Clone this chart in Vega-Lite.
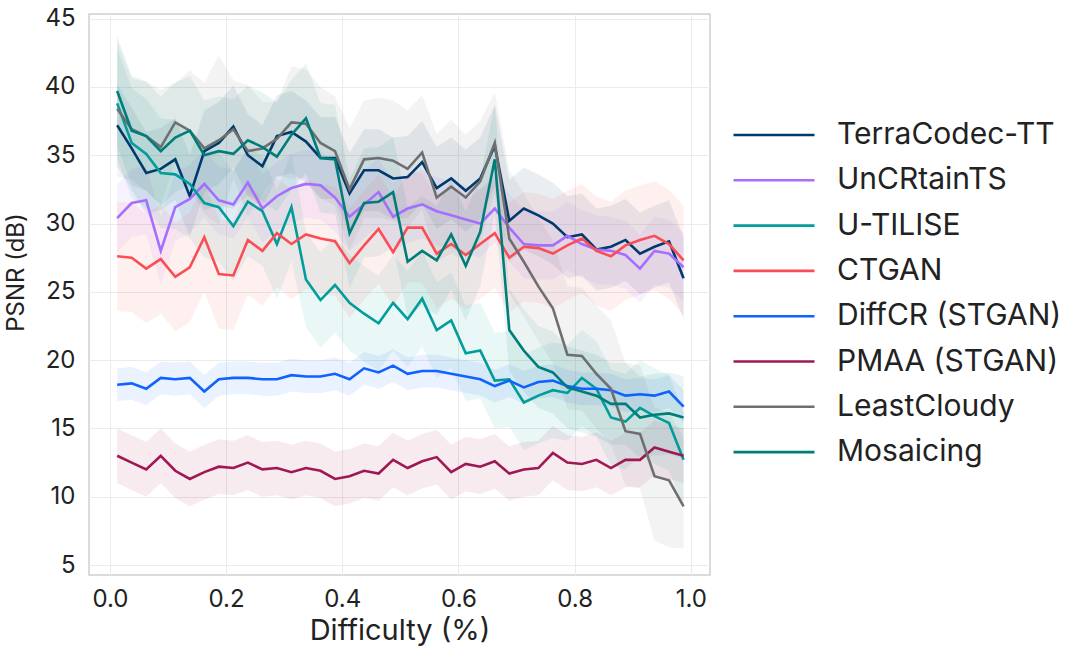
{
"$schema": "https://vega.github.io/schema/vega-lite/v6.json",
"width": 621, "height": 561,
"autosize": {"type": "none"},
"padding": {"left": 89, "top": 14, "right": 369, "bottom": 82},
"config": {"font": "Inter", "view": {"stroke": "#cfcfcf", "strokeWidth": 1.5},
 "axis": {"grid": true, "gridColor": "#ebebeb", "gridWidth": 1, "domain": false, "ticks": false, "labelFontSize": 24, "labelColor": "#222222", "titleFontSize": 29, "titleFontWeight": "normal", "titleColor": "#222222"}},
"data": {"values": [
{"m":"TerraCodec-TT","x":0.0125,"y":37.2,"lo":34.2,"hi":40.2},{"m":"TerraCodec-TT","x":0.0375,"y":35.5,"lo":32.5,"hi":38.5},{"m":"TerraCodec-TT","x":0.0625,"y":33.7,"lo":30.7,"hi":36.7},{"m":"TerraCodec-TT","x":0.0875,"y":34.0,"lo":31.0,"hi":37.0},{"m":"TerraCodec-TT","x":0.1125,"y":34.7,"lo":31.7,"hi":37.7},{"m":"TerraCodec-TT","x":0.1375,"y":32.0,"lo":29.0,"hi":35.0},{"m":"TerraCodec-TT","x":0.1625,"y":35.3,"lo":32.3,"hi":38.3},{"m":"TerraCodec-TT","x":0.1875,"y":35.9,"lo":32.9,"hi":38.9},{"m":"TerraCodec-TT","x":0.2125,"y":37.1,"lo":34.1,"hi":40.1},{"m":"TerraCodec-TT","x":0.2375,"y":35.0,"lo":32.0,"hi":38.0},{"m":"TerraCodec-TT","x":0.2625,"y":34.2,"lo":31.2,"hi":37.2},{"m":"TerraCodec-TT","x":0.2875,"y":36.4,"lo":33.4,"hi":39.4},{"m":"TerraCodec-TT","x":0.3125,"y":36.7,"lo":33.7,"hi":39.7},{"m":"TerraCodec-TT","x":0.3375,"y":36.0,"lo":33.0,"hi":39.0},{"m":"TerraCodec-TT","x":0.3625,"y":34.8,"lo":31.8,"hi":37.8},{"m":"TerraCodec-TT","x":0.3875,"y":34.8,"lo":31.8,"hi":37.8},{"m":"TerraCodec-TT","x":0.4125,"y":32.2,"lo":29.2,"hi":35.2},{"m":"TerraCodec-TT","x":0.4375,"y":33.9,"lo":30.9,"hi":36.9},{"m":"TerraCodec-TT","x":0.4625,"y":33.9,"lo":30.9,"hi":36.9},{"m":"TerraCodec-TT","x":0.4875,"y":33.3,"lo":30.3,"hi":36.3},{"m":"TerraCodec-TT","x":0.5125,"y":33.4,"lo":30.4,"hi":36.4},{"m":"TerraCodec-TT","x":0.5375,"y":34.5,"lo":31.5,"hi":37.5},{"m":"TerraCodec-TT","x":0.5625,"y":32.6,"lo":29.6,"hi":35.6},{"m":"TerraCodec-TT","x":0.5875,"y":33.3,"lo":30.3,"hi":36.3},{"m":"TerraCodec-TT","x":0.6125,"y":32.4,"lo":29.4,"hi":35.4},{"m":"TerraCodec-TT","x":0.6375,"y":33.3,"lo":30.3,"hi":36.3},{"m":"TerraCodec-TT","x":0.6625,"y":35.7,"lo":32.7,"hi":38.7},{"m":"TerraCodec-TT","x":0.6875,"y":30.2,"lo":27.2,"hi":33.2},{"m":"TerraCodec-TT","x":0.7125,"y":31.1,"lo":28.1,"hi":34.1},{"m":"TerraCodec-TT","x":0.7375,"y":30.6,"lo":27.6,"hi":33.6},{"m":"TerraCodec-TT","x":0.7625,"y":30.0,"lo":27.0,"hi":33.0},{"m":"TerraCodec-TT","x":0.7875,"y":29.0,"lo":26.0,"hi":32.0},{"m":"TerraCodec-TT","x":0.8125,"y":29.2,"lo":26.2,"hi":32.2},{"m":"TerraCodec-TT","x":0.8375,"y":28.1,"lo":25.1,"hi":31.1},{"m":"TerraCodec-TT","x":0.8625,"y":28.3,"lo":25.3,"hi":31.3},{"m":"TerraCodec-TT","x":0.8875,"y":28.8,"lo":25.8,"hi":31.8},{"m":"TerraCodec-TT","x":0.9125,"y":27.8,"lo":24.8,"hi":30.8},{"m":"TerraCodec-TT","x":0.9375,"y":28.3,"lo":25.3,"hi":31.3},{"m":"TerraCodec-TT","x":0.9625,"y":28.7,"lo":25.7,"hi":31.7},{"m":"TerraCodec-TT","x":0.9875,"y":26.0,"lo":23.0,"hi":29.0},
{"m":"UnCRtainTS","x":0.0125,"y":30.4,"lo":27.9,"hi":32.9},{"m":"UnCRtainTS","x":0.0375,"y":31.5,"lo":29.0,"hi":34.0},{"m":"UnCRtainTS","x":0.0625,"y":31.7,"lo":29.2,"hi":34.2},{"m":"UnCRtainTS","x":0.0875,"y":28.0,"lo":25.5,"hi":30.5},{"m":"UnCRtainTS","x":0.1125,"y":31.2,"lo":28.7,"hi":33.7},{"m":"UnCRtainTS","x":0.1375,"y":31.8,"lo":29.3,"hi":34.3},{"m":"UnCRtainTS","x":0.1625,"y":32.9,"lo":30.4,"hi":35.4},{"m":"UnCRtainTS","x":0.1875,"y":31.7,"lo":29.2,"hi":34.2},{"m":"UnCRtainTS","x":0.2125,"y":31.4,"lo":28.9,"hi":33.9},{"m":"UnCRtainTS","x":0.2375,"y":33.0,"lo":30.5,"hi":35.5},{"m":"UnCRtainTS","x":0.2625,"y":31.1,"lo":28.6,"hi":33.6},{"m":"UnCRtainTS","x":0.2875,"y":32.0,"lo":29.5,"hi":34.5},{"m":"UnCRtainTS","x":0.3125,"y":32.6,"lo":30.1,"hi":35.1},{"m":"UnCRtainTS","x":0.3375,"y":32.9,"lo":30.4,"hi":35.4},{"m":"UnCRtainTS","x":0.3625,"y":32.8,"lo":30.3,"hi":35.3},{"m":"UnCRtainTS","x":0.3875,"y":31.9,"lo":29.4,"hi":34.4},{"m":"UnCRtainTS","x":0.4125,"y":30.5,"lo":28.0,"hi":33.0},{"m":"UnCRtainTS","x":0.4375,"y":31.4,"lo":28.9,"hi":33.9},{"m":"UnCRtainTS","x":0.4625,"y":32.3,"lo":29.8,"hi":34.8},{"m":"UnCRtainTS","x":0.4875,"y":30.5,"lo":28.0,"hi":33.0},{"m":"UnCRtainTS","x":0.5125,"y":31.1,"lo":28.6,"hi":33.6},{"m":"UnCRtainTS","x":0.5375,"y":31.4,"lo":28.9,"hi":33.9},{"m":"UnCRtainTS","x":0.5625,"y":30.9,"lo":28.4,"hi":33.4},{"m":"UnCRtainTS","x":0.5875,"y":30.6,"lo":28.1,"hi":33.1},{"m":"UnCRtainTS","x":0.6125,"y":30.3,"lo":27.8,"hi":32.8},{"m":"UnCRtainTS","x":0.6375,"y":30.0,"lo":27.5,"hi":32.5},{"m":"UnCRtainTS","x":0.6625,"y":31.1,"lo":28.6,"hi":33.6},{"m":"UnCRtainTS","x":0.6875,"y":29.7,"lo":27.2,"hi":32.2},{"m":"UnCRtainTS","x":0.7125,"y":28.5,"lo":26.0,"hi":31.0},{"m":"UnCRtainTS","x":0.7375,"y":28.4,"lo":25.9,"hi":30.9},{"m":"UnCRtainTS","x":0.7625,"y":28.4,"lo":25.9,"hi":30.9},{"m":"UnCRtainTS","x":0.7875,"y":29.1,"lo":26.6,"hi":31.6},{"m":"UnCRtainTS","x":0.8125,"y":28.5,"lo":26.0,"hi":31.0},{"m":"UnCRtainTS","x":0.8375,"y":28.1,"lo":25.6,"hi":30.6},{"m":"UnCRtainTS","x":0.8625,"y":28.0,"lo":25.5,"hi":30.5},{"m":"UnCRtainTS","x":0.8875,"y":27.7,"lo":25.2,"hi":30.2},{"m":"UnCRtainTS","x":0.9125,"y":26.7,"lo":24.2,"hi":29.2},{"m":"UnCRtainTS","x":0.9375,"y":28.0,"lo":25.5,"hi":30.5},{"m":"UnCRtainTS","x":0.9625,"y":27.8,"lo":25.3,"hi":30.3},{"m":"UnCRtainTS","x":0.9875,"y":26.8,"lo":24.3,"hi":29.3},
{"m":"U-TILISE","x":0.0125,"y":38.8,"lo":34.8,"hi":42.8},{"m":"U-TILISE","x":0.0375,"y":35.9,"lo":31.9,"hi":39.9},{"m":"U-TILISE","x":0.0625,"y":35.1,"lo":31.1,"hi":39.1},{"m":"U-TILISE","x":0.0875,"y":33.7,"lo":29.7,"hi":37.7},{"m":"U-TILISE","x":0.1125,"y":33.6,"lo":29.6,"hi":37.6},{"m":"U-TILISE","x":0.1375,"y":32.9,"lo":28.9,"hi":36.9},{"m":"U-TILISE","x":0.1625,"y":31.5,"lo":27.5,"hi":35.5},{"m":"U-TILISE","x":0.1875,"y":31.2,"lo":27.2,"hi":35.2},{"m":"U-TILISE","x":0.2125,"y":29.8,"lo":25.8,"hi":33.8},{"m":"U-TILISE","x":0.2375,"y":31.6,"lo":27.6,"hi":35.6},{"m":"U-TILISE","x":0.2625,"y":30.9,"lo":26.9,"hi":34.9},{"m":"U-TILISE","x":0.2875,"y":28.5,"lo":24.5,"hi":32.5},{"m":"U-TILISE","x":0.3125,"y":31.2,"lo":27.2,"hi":35.2},{"m":"U-TILISE","x":0.3375,"y":25.9,"lo":22.4,"hi":29.4},{"m":"U-TILISE","x":0.3625,"y":24.4,"lo":20.9,"hi":27.9},{"m":"U-TILISE","x":0.3875,"y":25.5,"lo":22.0,"hi":29.0},{"m":"U-TILISE","x":0.4125,"y":24.2,"lo":20.7,"hi":27.7},{"m":"U-TILISE","x":0.4375,"y":23.4,"lo":19.9,"hi":26.9},{"m":"U-TILISE","x":0.4625,"y":22.7,"lo":19.2,"hi":26.2},{"m":"U-TILISE","x":0.4875,"y":24.2,"lo":20.7,"hi":27.7},{"m":"U-TILISE","x":0.5125,"y":23.0,"lo":19.5,"hi":26.5},{"m":"U-TILISE","x":0.5375,"y":24.5,"lo":21.0,"hi":28.0},{"m":"U-TILISE","x":0.5625,"y":22.2,"lo":18.7,"hi":25.7},{"m":"U-TILISE","x":0.5875,"y":22.9,"lo":19.4,"hi":26.4},{"m":"U-TILISE","x":0.6125,"y":20.5,"lo":17.0,"hi":24.0},{"m":"U-TILISE","x":0.6375,"y":20.7,"lo":17.2,"hi":24.2},{"m":"U-TILISE","x":0.6625,"y":18.5,"lo":15.0,"hi":22.0},{"m":"U-TILISE","x":0.6875,"y":18.6,"lo":15.1,"hi":22.1},{"m":"U-TILISE","x":0.7125,"y":16.9,"lo":13.4,"hi":20.4},{"m":"U-TILISE","x":0.7375,"y":17.4,"lo":13.9,"hi":20.9},{"m":"U-TILISE","x":0.7625,"y":17.8,"lo":14.3,"hi":21.3},{"m":"U-TILISE","x":0.7875,"y":17.6,"lo":14.1,"hi":21.1},{"m":"U-TILISE","x":0.8125,"y":18.7,"lo":15.2,"hi":22.2},{"m":"U-TILISE","x":0.8375,"y":17.9,"lo":14.4,"hi":21.4},{"m":"U-TILISE","x":0.8625,"y":15.8,"lo":12.3,"hi":19.3},{"m":"U-TILISE","x":0.8875,"y":15.5,"lo":12.0,"hi":19.0},{"m":"U-TILISE","x":0.9125,"y":16.5,"lo":13.0,"hi":20.0},{"m":"U-TILISE","x":0.9375,"y":15.9,"lo":12.4,"hi":19.4},{"m":"U-TILISE","x":0.9625,"y":15.4,"lo":11.9,"hi":18.9},{"m":"U-TILISE","x":0.9875,"y":12.7,"lo":9.2,"hi":16.2},
{"m":"CTGAN","x":0.0125,"y":27.6,"lo":23.6,"hi":31.6},{"m":"CTGAN","x":0.0375,"y":27.5,"lo":23.5,"hi":31.5},{"m":"CTGAN","x":0.0625,"y":26.7,"lo":22.7,"hi":30.7},{"m":"CTGAN","x":0.0875,"y":27.4,"lo":23.4,"hi":31.4},{"m":"CTGAN","x":0.1125,"y":26.1,"lo":22.1,"hi":30.1},{"m":"CTGAN","x":0.1375,"y":26.8,"lo":22.8,"hi":30.8},{"m":"CTGAN","x":0.1625,"y":29.0,"lo":25.0,"hi":33.0},{"m":"CTGAN","x":0.1875,"y":26.3,"lo":22.3,"hi":30.3},{"m":"CTGAN","x":0.2125,"y":26.2,"lo":22.2,"hi":30.2},{"m":"CTGAN","x":0.2375,"y":28.8,"lo":24.8,"hi":32.8},{"m":"CTGAN","x":0.2625,"y":28.0,"lo":24.0,"hi":32.0},{"m":"CTGAN","x":0.2875,"y":29.3,"lo":25.3,"hi":33.3},{"m":"CTGAN","x":0.3125,"y":28.5,"lo":24.5,"hi":32.5},{"m":"CTGAN","x":0.3375,"y":29.2,"lo":25.2,"hi":33.2},{"m":"CTGAN","x":0.3625,"y":28.9,"lo":24.9,"hi":32.9},{"m":"CTGAN","x":0.3875,"y":28.7,"lo":24.7,"hi":32.7},{"m":"CTGAN","x":0.4125,"y":27.1,"lo":23.1,"hi":31.1},{"m":"CTGAN","x":0.4375,"y":28.4,"lo":24.4,"hi":32.4},{"m":"CTGAN","x":0.4625,"y":29.6,"lo":25.6,"hi":33.6},{"m":"CTGAN","x":0.4875,"y":27.9,"lo":23.9,"hi":31.9},{"m":"CTGAN","x":0.5125,"y":29.7,"lo":25.7,"hi":33.7},{"m":"CTGAN","x":0.5375,"y":29.7,"lo":25.7,"hi":33.7},{"m":"CTGAN","x":0.5625,"y":27.8,"lo":23.8,"hi":31.8},{"m":"CTGAN","x":0.5875,"y":28.5,"lo":24.5,"hi":32.5},{"m":"CTGAN","x":0.6125,"y":27.7,"lo":23.7,"hi":31.7},{"m":"CTGAN","x":0.6375,"y":28.5,"lo":24.5,"hi":32.5},{"m":"CTGAN","x":0.6625,"y":29.3,"lo":25.3,"hi":33.3},{"m":"CTGAN","x":0.6875,"y":27.5,"lo":23.5,"hi":31.5},{"m":"CTGAN","x":0.7125,"y":28.3,"lo":24.3,"hi":32.3},{"m":"CTGAN","x":0.7375,"y":28.2,"lo":24.2,"hi":32.2},{"m":"CTGAN","x":0.7625,"y":27.8,"lo":23.8,"hi":31.8},{"m":"CTGAN","x":0.7875,"y":28.4,"lo":24.4,"hi":32.4},{"m":"CTGAN","x":0.8125,"y":28.9,"lo":24.9,"hi":32.9},{"m":"CTGAN","x":0.8375,"y":28.0,"lo":24.0,"hi":32.0},{"m":"CTGAN","x":0.8625,"y":27.6,"lo":23.6,"hi":31.6},{"m":"CTGAN","x":0.8875,"y":28.4,"lo":24.4,"hi":32.4},{"m":"CTGAN","x":0.9125,"y":28.8,"lo":24.8,"hi":32.8},{"m":"CTGAN","x":0.9375,"y":29.1,"lo":25.1,"hi":33.1},{"m":"CTGAN","x":0.9625,"y":28.5,"lo":24.5,"hi":32.5},{"m":"CTGAN","x":0.9875,"y":27.3,"lo":23.3,"hi":31.3},
{"m":"DiffCR (STGAN)","x":0.0125,"y":18.2,"lo":17.0,"hi":19.4},{"m":"DiffCR (STGAN)","x":0.0375,"y":18.3,"lo":17.1,"hi":19.5},{"m":"DiffCR (STGAN)","x":0.0625,"y":17.9,"lo":16.7,"hi":19.1},{"m":"DiffCR (STGAN)","x":0.0875,"y":18.7,"lo":17.5,"hi":19.9},{"m":"DiffCR (STGAN)","x":0.1125,"y":18.6,"lo":17.4,"hi":19.8},{"m":"DiffCR (STGAN)","x":0.1375,"y":18.7,"lo":17.5,"hi":19.9},{"m":"DiffCR (STGAN)","x":0.1625,"y":17.7,"lo":16.5,"hi":18.9},{"m":"DiffCR (STGAN)","x":0.1875,"y":18.6,"lo":17.4,"hi":19.8},{"m":"DiffCR (STGAN)","x":0.2125,"y":18.7,"lo":17.5,"hi":19.9},{"m":"DiffCR (STGAN)","x":0.2375,"y":18.7,"lo":17.5,"hi":19.9},{"m":"DiffCR (STGAN)","x":0.2625,"y":18.6,"lo":17.4,"hi":19.8},{"m":"DiffCR (STGAN)","x":0.2875,"y":18.6,"lo":17.4,"hi":19.8},{"m":"DiffCR (STGAN)","x":0.3125,"y":18.9,"lo":17.7,"hi":20.1},{"m":"DiffCR (STGAN)","x":0.3375,"y":18.8,"lo":17.6,"hi":20.0},{"m":"DiffCR (STGAN)","x":0.3625,"y":18.8,"lo":17.6,"hi":20.0},{"m":"DiffCR (STGAN)","x":0.3875,"y":19.0,"lo":17.8,"hi":20.2},{"m":"DiffCR (STGAN)","x":0.4125,"y":18.6,"lo":17.4,"hi":19.8},{"m":"DiffCR (STGAN)","x":0.4375,"y":19.4,"lo":18.2,"hi":20.6},{"m":"DiffCR (STGAN)","x":0.4625,"y":19.1,"lo":17.9,"hi":20.3},{"m":"DiffCR (STGAN)","x":0.4875,"y":19.6,"lo":18.4,"hi":20.8},{"m":"DiffCR (STGAN)","x":0.5125,"y":19.0,"lo":17.8,"hi":20.2},{"m":"DiffCR (STGAN)","x":0.5375,"y":19.2,"lo":18.0,"hi":20.4},{"m":"DiffCR (STGAN)","x":0.5625,"y":19.2,"lo":18.0,"hi":20.4},{"m":"DiffCR (STGAN)","x":0.5875,"y":19.0,"lo":17.8,"hi":20.2},{"m":"DiffCR (STGAN)","x":0.6125,"y":18.8,"lo":17.6,"hi":20.0},{"m":"DiffCR (STGAN)","x":0.6375,"y":18.6,"lo":17.4,"hi":19.8},{"m":"DiffCR (STGAN)","x":0.6625,"y":18.1,"lo":16.9,"hi":19.3},{"m":"DiffCR (STGAN)","x":0.6875,"y":18.5,"lo":17.3,"hi":19.7},{"m":"DiffCR (STGAN)","x":0.7125,"y":18.0,"lo":16.8,"hi":19.2},{"m":"DiffCR (STGAN)","x":0.7375,"y":18.4,"lo":17.2,"hi":19.6},{"m":"DiffCR (STGAN)","x":0.7625,"y":18.5,"lo":17.3,"hi":19.7},{"m":"DiffCR (STGAN)","x":0.7875,"y":18.1,"lo":16.9,"hi":19.3},{"m":"DiffCR (STGAN)","x":0.8125,"y":17.9,"lo":16.7,"hi":19.1},{"m":"DiffCR (STGAN)","x":0.8375,"y":17.9,"lo":16.7,"hi":19.1},{"m":"DiffCR (STGAN)","x":0.8625,"y":17.8,"lo":16.6,"hi":19.0},{"m":"DiffCR (STGAN)","x":0.8875,"y":17.4,"lo":16.2,"hi":18.6},{"m":"DiffCR (STGAN)","x":0.9125,"y":17.5,"lo":16.3,"hi":18.7},{"m":"DiffCR (STGAN)","x":0.9375,"y":17.4,"lo":16.2,"hi":18.6},{"m":"DiffCR (STGAN)","x":0.9625,"y":17.7,"lo":16.5,"hi":18.9},{"m":"DiffCR (STGAN)","x":0.9875,"y":16.6,"lo":15.4,"hi":17.8},
{"m":"PMAA (STGAN)","x":0.0125,"y":13.0,"lo":11.0,"hi":15.0},{"m":"PMAA (STGAN)","x":0.0375,"y":12.5,"lo":10.5,"hi":14.5},{"m":"PMAA (STGAN)","x":0.0625,"y":12.0,"lo":10.0,"hi":14.0},{"m":"PMAA (STGAN)","x":0.0875,"y":13.0,"lo":11.0,"hi":15.0},{"m":"PMAA (STGAN)","x":0.1125,"y":11.9,"lo":9.9,"hi":13.9},{"m":"PMAA (STGAN)","x":0.1375,"y":11.3,"lo":9.3,"hi":13.3},{"m":"PMAA (STGAN)","x":0.1625,"y":11.8,"lo":9.8,"hi":13.8},{"m":"PMAA (STGAN)","x":0.1875,"y":12.2,"lo":10.2,"hi":14.2},{"m":"PMAA (STGAN)","x":0.2125,"y":12.1,"lo":10.1,"hi":14.1},{"m":"PMAA (STGAN)","x":0.2375,"y":12.5,"lo":10.5,"hi":14.5},{"m":"PMAA (STGAN)","x":0.2625,"y":12.0,"lo":10.0,"hi":14.0},{"m":"PMAA (STGAN)","x":0.2875,"y":12.1,"lo":10.1,"hi":14.1},{"m":"PMAA (STGAN)","x":0.3125,"y":11.8,"lo":9.8,"hi":13.8},{"m":"PMAA (STGAN)","x":0.3375,"y":12.1,"lo":10.1,"hi":14.1},{"m":"PMAA (STGAN)","x":0.3625,"y":11.9,"lo":9.9,"hi":13.9},{"m":"PMAA (STGAN)","x":0.3875,"y":11.3,"lo":9.3,"hi":13.3},{"m":"PMAA (STGAN)","x":0.4125,"y":11.5,"lo":9.5,"hi":13.5},{"m":"PMAA (STGAN)","x":0.4375,"y":11.9,"lo":9.9,"hi":13.9},{"m":"PMAA (STGAN)","x":0.4625,"y":11.7,"lo":9.7,"hi":13.7},{"m":"PMAA (STGAN)","x":0.4875,"y":12.7,"lo":10.7,"hi":14.7},{"m":"PMAA (STGAN)","x":0.5125,"y":12.1,"lo":10.1,"hi":14.1},{"m":"PMAA (STGAN)","x":0.5375,"y":12.6,"lo":10.6,"hi":14.6},{"m":"PMAA (STGAN)","x":0.5625,"y":12.9,"lo":10.9,"hi":14.9},{"m":"PMAA (STGAN)","x":0.5875,"y":11.8,"lo":9.8,"hi":13.8},{"m":"PMAA (STGAN)","x":0.6125,"y":12.4,"lo":10.4,"hi":14.4},{"m":"PMAA (STGAN)","x":0.6375,"y":12.2,"lo":10.2,"hi":14.2},{"m":"PMAA (STGAN)","x":0.6625,"y":12.6,"lo":10.6,"hi":14.6},{"m":"PMAA (STGAN)","x":0.6875,"y":11.7,"lo":9.7,"hi":13.7},{"m":"PMAA (STGAN)","x":0.7125,"y":12.0,"lo":10.0,"hi":14.0},{"m":"PMAA (STGAN)","x":0.7375,"y":12.1,"lo":10.1,"hi":14.1},{"m":"PMAA (STGAN)","x":0.7625,"y":13.2,"lo":11.2,"hi":15.2},{"m":"PMAA (STGAN)","x":0.7875,"y":12.5,"lo":10.5,"hi":14.5},{"m":"PMAA (STGAN)","x":0.8125,"y":12.4,"lo":10.4,"hi":14.4},{"m":"PMAA (STGAN)","x":0.8375,"y":12.7,"lo":10.7,"hi":14.7},{"m":"PMAA (STGAN)","x":0.8625,"y":12.1,"lo":10.1,"hi":14.1},{"m":"PMAA (STGAN)","x":0.8875,"y":12.7,"lo":10.7,"hi":14.7},{"m":"PMAA (STGAN)","x":0.9125,"y":12.7,"lo":10.7,"hi":14.7},{"m":"PMAA (STGAN)","x":0.9375,"y":13.6,"lo":11.6,"hi":15.6},{"m":"PMAA (STGAN)","x":0.9625,"y":13.3,"lo":11.3,"hi":15.3},{"m":"PMAA (STGAN)","x":0.9875,"y":13.0,"lo":11.0,"hi":15.0},
{"m":"LeastCloudy","x":0.0125,"y":38.4,"lo":33.4,"hi":43.4},{"m":"LeastCloudy","x":0.0375,"y":36.9,"lo":33.2,"hi":40.6},{"m":"LeastCloudy","x":0.0625,"y":36.4,"lo":32.4,"hi":40.4},{"m":"LeastCloudy","x":0.0875,"y":35.6,"lo":31.4,"hi":39.8},{"m":"LeastCloudy","x":0.1125,"y":37.4,"lo":34.5,"hi":40.3},{"m":"LeastCloudy","x":0.1375,"y":36.8,"lo":32.4,"hi":41.2},{"m":"LeastCloudy","x":0.1625,"y":35.5,"lo":30.7,"hi":40.3},{"m":"LeastCloudy","x":0.1875,"y":36.1,"lo":29.9,"hi":42.3},{"m":"LeastCloudy","x":0.2125,"y":36.9,"lo":33.3,"hi":40.5},{"m":"LeastCloudy","x":0.2375,"y":35.3,"lo":30.5,"hi":40.1},{"m":"LeastCloudy","x":0.2625,"y":35.5,"lo":32.1,"hi":38.9},{"m":"LeastCloudy","x":0.2875,"y":36.2,"lo":33.5,"hi":38.9},{"m":"LeastCloudy","x":0.3125,"y":37.4,"lo":33.3,"hi":41.5},{"m":"LeastCloudy","x":0.3375,"y":37.3,"lo":33.3,"hi":41.3},{"m":"LeastCloudy","x":0.3625,"y":35.9,"lo":31.9,"hi":40.0},{"m":"LeastCloudy","x":0.3875,"y":35.3,"lo":31.3,"hi":39.3},{"m":"LeastCloudy","x":0.4125,"y":32.5,"lo":28.0,"hi":37.0},{"m":"LeastCloudy","x":0.4375,"y":34.7,"lo":30.4,"hi":39.0},{"m":"LeastCloudy","x":0.4625,"y":34.8,"lo":30.4,"hi":39.2},{"m":"LeastCloudy","x":0.4875,"y":34.6,"lo":30.2,"hi":39.0},{"m":"LeastCloudy","x":0.5125,"y":34.0,"lo":29.7,"hi":38.3},{"m":"LeastCloudy","x":0.5375,"y":35.2,"lo":31.0,"hi":39.4},{"m":"LeastCloudy","x":0.5625,"y":31.9,"lo":27.2,"hi":36.6},{"m":"LeastCloudy","x":0.5875,"y":32.7,"lo":27.8,"hi":37.6},{"m":"LeastCloudy","x":0.6125,"y":31.9,"lo":27.3,"hi":36.5},{"m":"LeastCloudy","x":0.6375,"y":33.1,"lo":28.7,"hi":37.5},{"m":"LeastCloudy","x":0.6625,"y":35.9,"lo":32.2,"hi":39.6},{"m":"LeastCloudy","x":0.6875,"y":28.9,"lo":24.9,"hi":33.9},{"m":"LeastCloudy","x":0.7125,"y":27.2,"lo":23.2,"hi":32.2},{"m":"LeastCloudy","x":0.7375,"y":25.4,"lo":21.4,"hi":30.4},{"m":"LeastCloudy","x":0.7625,"y":23.8,"lo":19.8,"hi":28.8},{"m":"LeastCloudy","x":0.7875,"y":20.4,"lo":16.4,"hi":25.4},{"m":"LeastCloudy","x":0.8125,"y":20.3,"lo":16.3,"hi":25.3},{"m":"LeastCloudy","x":0.8375,"y":19.0,"lo":15.0,"hi":24.0},{"m":"LeastCloudy","x":0.8625,"y":17.9,"lo":13.9,"hi":22.9},{"m":"LeastCloudy","x":0.8875,"y":14.8,"lo":10.8,"hi":19.8},{"m":"LeastCloudy","x":0.9125,"y":14.6,"lo":10.6,"hi":19.6},{"m":"LeastCloudy","x":0.9375,"y":11.5,"lo":6.8,"hi":16.5},{"m":"LeastCloudy","x":0.9625,"y":11.2,"lo":6.3,"hi":16.2},{"m":"LeastCloudy","x":0.9875,"y":9.3,"lo":6.2,"hi":14.3},
{"m":"Mosaicing","x":0.0125,"y":39.7,"lo":35.7,"hi":43.7},{"m":"Mosaicing","x":0.0375,"y":36.8,"lo":32.8,"hi":40.8},{"m":"Mosaicing","x":0.0625,"y":36.4,"lo":32.4,"hi":40.4},{"m":"Mosaicing","x":0.0875,"y":35.3,"lo":31.3,"hi":39.3},{"m":"Mosaicing","x":0.1125,"y":36.3,"lo":32.3,"hi":40.3},{"m":"Mosaicing","x":0.1375,"y":36.8,"lo":32.8,"hi":40.8},{"m":"Mosaicing","x":0.1625,"y":35.0,"lo":31.0,"hi":39.0},{"m":"Mosaicing","x":0.1875,"y":35.3,"lo":31.3,"hi":39.3},{"m":"Mosaicing","x":0.2125,"y":35.1,"lo":31.1,"hi":39.1},{"m":"Mosaicing","x":0.2375,"y":36.1,"lo":32.1,"hi":40.1},{"m":"Mosaicing","x":0.2625,"y":35.6,"lo":31.6,"hi":39.6},{"m":"Mosaicing","x":0.2875,"y":34.9,"lo":30.9,"hi":38.9},{"m":"Mosaicing","x":0.3125,"y":36.5,"lo":32.5,"hi":40.5},{"m":"Mosaicing","x":0.3375,"y":37.7,"lo":33.7,"hi":41.7},{"m":"Mosaicing","x":0.3625,"y":34.8,"lo":30.8,"hi":38.8},{"m":"Mosaicing","x":0.3875,"y":34.7,"lo":30.7,"hi":38.7},{"m":"Mosaicing","x":0.4125,"y":29.3,"lo":25.3,"hi":33.3},{"m":"Mosaicing","x":0.4375,"y":31.5,"lo":27.5,"hi":35.5},{"m":"Mosaicing","x":0.4625,"y":31.6,"lo":27.6,"hi":35.6},{"m":"Mosaicing","x":0.4875,"y":32.3,"lo":28.3,"hi":36.3},{"m":"Mosaicing","x":0.5125,"y":27.2,"lo":23.2,"hi":31.2},{"m":"Mosaicing","x":0.5375,"y":28.0,"lo":24.0,"hi":32.0},{"m":"Mosaicing","x":0.5625,"y":27.3,"lo":23.3,"hi":31.3},{"m":"Mosaicing","x":0.5875,"y":29.2,"lo":25.2,"hi":33.2},{"m":"Mosaicing","x":0.6125,"y":26.9,"lo":22.9,"hi":30.9},{"m":"Mosaicing","x":0.6375,"y":29.4,"lo":25.4,"hi":33.4},{"m":"Mosaicing","x":0.6625,"y":34.7,"lo":30.7,"hi":38.7},{"m":"Mosaicing","x":0.6875,"y":22.2,"lo":19.2,"hi":25.2},{"m":"Mosaicing","x":0.7125,"y":20.7,"lo":17.7,"hi":23.7},{"m":"Mosaicing","x":0.7375,"y":19.5,"lo":16.5,"hi":22.5},{"m":"Mosaicing","x":0.7625,"y":19.1,"lo":16.1,"hi":22.1},{"m":"Mosaicing","x":0.7875,"y":18.0,"lo":15.0,"hi":21.0},{"m":"Mosaicing","x":0.8125,"y":17.7,"lo":14.7,"hi":20.7},{"m":"Mosaicing","x":0.8375,"y":17.4,"lo":14.4,"hi":20.4},{"m":"Mosaicing","x":0.8625,"y":16.8,"lo":13.8,"hi":19.8},{"m":"Mosaicing","x":0.8875,"y":16.8,"lo":13.8,"hi":19.8},{"m":"Mosaicing","x":0.9125,"y":15.8,"lo":12.8,"hi":18.8},{"m":"Mosaicing","x":0.9375,"y":16.0,"lo":13.0,"hi":19.0},{"m":"Mosaicing","x":0.9625,"y":16.1,"lo":13.1,"hi":19.1},{"m":"Mosaicing","x":0.9875,"y":15.8,"lo":12.8,"hi":18.8}
]},
"encoding": {
 "x": {"field": "x", "type": "quantitative", "title": "Difficulty (%)", "scale": {"domain": [-0.036, 1.033], "nice": false, "zero": false}, "axis": {"values": [0, 0.2, 0.4, 0.6, 0.8, 1.0], "format": ".1f", "labelPadding": 12, "titlePadding": 5}},
 "color": {"field": "m", "type": "nominal", "title": null,
   "scale": {"domain": ["TerraCodec-TT", "UnCRtainTS", "U-TILISE", "CTGAN", "DiffCR (STGAN)", "PMAA (STGAN)", "LeastCloudy", "Mosaicing"], "range": ["#003a6d", "#a56eff", "#009d9a", "#fa4d56", "#0f62fe", "#9f1853", "#6f6f6f", "#007d79"]},
   "legend": {"orient": "none", "legendX": 643, "legendY": 101, "symbolType": "stroke", "symbolSize": 6561, "symbolStrokeWidth": 2.6, "symbolOpacity": 1, "labelFontSize": 30, "labelColor": "#222222", "labelOffset": 21, "labelLimit": 400, "clipHeight": 40, "rowPadding": 5.3}}
},
"layer": [
 {"mark": {"type": "area", "opacity": 0.085},
  "encoding": {
   "y": {"field": "lo", "type": "quantitative", "title": "PSNR (dB)", "scale": {"domain": [4.27, 45.34], "nice": false, "zero": false}, "axis": {"values": [5, 10, 15, 20, 25, 30, 35, 40, 45], "labelPadding": 14, "titlePadding": 16, "titleFontSize": 24, "titleY": 258}},
   "y2": {"field": "hi"}
  }},
 {"mark": {"type": "line", "strokeWidth": 2.6},
  "encoding": {
   "y": {"field": "y", "type": "quantitative"}
  }}
]
}
